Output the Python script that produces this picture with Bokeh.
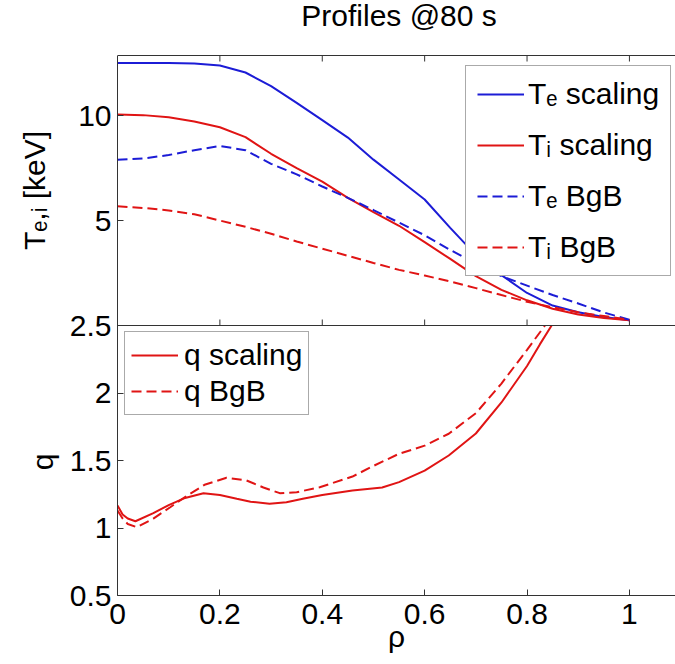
import numpy as np
from bokeh.plotting import figure
from bokeh.layouts import row
from bokeh.models import (Range1d, FixedTicker, Legend, LegendItem, Label, Span)
from bokeh.embed import file_html
from bokeh.resources import INLINE

# ---------------- data ----------------
rho_T = [0.00, 0.05, 0.10, 0.15, 0.20, 0.25, 0.30, 0.35, 0.40, 0.45, 0.50,
         0.55, 0.60, 0.65, 0.70, 0.75, 0.80, 0.85, 0.90, 0.95, 1.00]
te_scaling = [12.50, 12.50, 12.50, 12.48, 12.38, 12.05, 11.40, 10.60, 9.78, 8.95, 7.90,
              6.95, 6.00, 4.65, 3.35, 2.40, 1.55, 0.95, 0.63, 0.40, 0.25]
ti_scaling = [10.05, 10.02, 9.92, 9.72, 9.44, 8.97, 8.18, 7.50, 6.85, 6.08, 5.40,
              4.75, 3.97, 3.17, 2.35, 1.70, 1.20, 0.80, 0.52, 0.36, 0.25]
te_bgb = [7.89, 7.95, 8.12, 8.35, 8.55, 8.35, 7.70, 7.20, 6.62, 6.08, 5.50,
          4.90, 4.30, 3.60, 2.95, 2.35, 1.90, 1.45, 1.05, 0.62, 0.27]
ti_bgb = [5.68, 5.60, 5.48, 5.30, 5.00, 4.70, 4.37, 4.00, 3.66, 3.32, 2.98,
          2.65, 2.38, 2.10, 1.78, 1.45, 1.13, 0.87, 0.63, 0.45, 0.27]

rho_q_scaling = [0.00, 0.01, 0.02, 0.035, 0.07, 0.10, 0.13, 0.168, 0.20, 0.233, 0.26,
                 0.297, 0.33, 0.362, 0.40, 0.459, 0.517, 0.55, 0.60, 0.647, 0.70,
                 0.75, 0.80, 0.825, 0.848]
q_scaling = [1.167, 1.10, 1.07, 1.05, 1.11, 1.17, 1.22, 1.258, 1.245, 1.216, 1.195,
             1.179, 1.19, 1.216, 1.245, 1.278, 1.30, 1.34, 1.425, 1.537, 1.70,
             1.93, 2.20, 2.36, 2.50]
rho_q_bgb = [0.00, 0.01, 0.02, 0.038, 0.07, 0.103, 0.136, 0.17, 0.213, 0.252, 0.285,
             0.317, 0.35, 0.395, 0.459, 0.50, 0.55, 0.60, 0.647, 0.70, 0.75, 0.80,
             0.835]
q_bgb = [1.13, 1.07, 1.03, 1.006, 1.07, 1.154, 1.24, 1.32, 1.372, 1.352, 1.30,
         1.258, 1.265, 1.302, 1.381, 1.46, 1.55, 1.61, 1.698, 1.85, 2.07, 2.32,
         2.50]

x_ticks = [0.0, 0.2, 0.4, 0.6, 0.8, 1.0]
x_tick_labels = ["0", "0.2", "0.4", "0.6", "0.8", "1"]
q_ticks = [0.5, 1.0, 1.5, 2.0, 2.5]
q_tick_labels = ["0.5", "1", "1.5", "2", "2.5"]
T_ticks = [5.0, 10.0]
T_tick_labels = ["5", "10"]

title_text = "Profiles @80 s"
T_label = "T\u2091,\u1d62 [keV]"
q_label = "q"
x_label = "\u03c1"
legend_top = ["T\u2091 scaling", "T\u1d62 scaling", "T\u2091 BgB", "T\u1d62 BgB"]
legend_bot = ["q scaling", "q BgB"]

# ---------------- styling / geometry ----------------
FONT = "Liberation Sans"
FS = "30px"
BLUE = "#1c1cd6"
RED = "#e01414"
AX = "#333333"
DASH = "10 5"
W, H = 675, 664
LEFT_W = 66          # strip that holds the two rotated y-axis titles
BOTTOM = 69          # space below the frame for tick labels and x title

Q_MIN, Q_SPLIT, Q_BOX = 0.5, 2.5, 4.5      # q axis: lower panel 0.5..2.5
T_BOX = 12.86                               # T axis: upper panel 0..12.86
PX_PER_Q = (H - BOTTOM - 55) / (Q_BOX - Q_MIN)   # box top 55 px below canvas top
Q_TOP = Q_MIN + (H - BOTTOM) / PX_PER_Q          # frame reaches the canvas top (room for title)
T_PER_Q = T_BOX / (Q_BOX - Q_SPLIT)


def t_to_q(t):
    return Q_SPLIT + t / T_PER_Q


# ---------------- main plot (both panels share the x axis) ----------------
p = figure(width=W - LEFT_W, height=H, output_backend="svg", toolbar_location=None,
           x_range=Range1d(0, 1.09), y_range=Range1d(Q_MIN, Q_TOP),
           min_border_left=114 - LEFT_W, min_border_right=0, min_border_top=0,
           min_border_bottom=BOTTOM)
p.extra_y_ranges = {"T": Range1d((Q_MIN - Q_SPLIT) * T_PER_Q, (Q_TOP - Q_SPLIT) * T_PER_Q)}
p.outline_line_color = None
p.grid.visible = False
p.background_fill_color = "white"
p.border_fill_color = "white"

# title (drawn inside the frame area above the box)
p.add_layout(Label(x=0.55, y=Q_SPLIT + (325 - 15) / PX_PER_Q, text=title_text,
                   text_align="center", text_baseline="alphabetic",
                   text_font=FONT, text_font_size=FS, text_color="black"))

# ---------------- strip with the y-axis titles (frame aligned with main plot) ----------------
pl = figure(width=LEFT_W, height=H, output_backend="svg", toolbar_location=None,
            x_range=Range1d(0, LEFT_W), y_range=p.y_range,
            x_axis_location=None, y_axis_location=None,
            min_border=0, min_border_left=0, min_border_right=0,
            min_border_top=0, min_border_bottom=0)
pl.outline_line_color = None
pl.grid.visible = False
pl.add_layout(Label(x=34, y=t_to_q(6.43), text=T_label, angle=np.pi / 2,
                    text_align="center", text_baseline="alphabetic",
                    text_font=FONT, text_font_size=FS, text_color="black"))
pl.add_layout(Label(x=42, y=1.49, text=q_label, angle=np.pi / 2,
                    text_align="center", text_baseline="alphabetic",
                    text_font=FONT, text_font_size=FS, text_color="black"))

xa = p.xaxis[0]
xa.ticker = FixedTicker(ticks=x_ticks)
xa.major_label_overrides = {t: l for t, l in zip(x_ticks, x_tick_labels)}
xa.axis_label = x_label
xa.axis_label_text_font = FONT
xa.axis_label_text_font_size = FS
xa.axis_label_text_font_style = "normal"
xa.axis_label_text_color = "black"
xa.axis_label_standoff = -7

ya = p.yaxis[0]
ya_ticks = q_ticks + [t_to_q(t) for t in T_ticks]
ya.ticker = FixedTicker(ticks=ya_ticks)
ya.major_label_overrides = {t: l for t, l in zip(ya_ticks, q_tick_labels + T_tick_labels)}
ya.bounds = (Q_MIN, Q_BOX)

for ax in (xa, ya):
    ax.axis_line_color = AX
    ax.major_tick_line_color = AX
    ax.major_tick_in = 6
    ax.major_tick_out = 0
    ax.minor_tick_line_color = None
    ax.major_label_text_font = FONT
    ax.major_label_text_font_size = FS
    ax.major_label_text_color = "black"
xa.major_label_standoff = 8
ya.major_label_standoff = 6

# box top line and the separator between the panels, with inward ticks
p.add_layout(Span(location=Q_BOX, dimension="width", line_color=AX, line_width=1))
p.add_layout(Span(location=Q_SPLIT, dimension="width", line_color=AX, line_width=1))
tick_len = 6 / PX_PER_Q
n_t = len(x_ticks) - 1
p.segment(x0=x_ticks[1:], y0=[Q_SPLIT] * n_t, x1=x_ticks[1:], y1=[Q_SPLIT + tick_len] * n_t,
          line_color=AX, line_width=1)
p.segment(x0=x_ticks[1:], y0=[Q_BOX] * n_t, x1=x_ticks[1:], y1=[Q_BOX - tick_len] * n_t,
          line_color=AX, line_width=1)

# temperature profiles (upper panel)
r_te = p.line(rho_T, te_scaling, y_range_name="T", line_color=BLUE, line_width=2)
r_ti = p.line(rho_T, ti_scaling, y_range_name="T", line_color=RED, line_width=2)
r_teb = p.line(rho_T, te_bgb, y_range_name="T", line_color=BLUE, line_width=2, line_dash=DASH)
r_tib = p.line(rho_T, ti_bgb, y_range_name="T", line_color=RED, line_width=2, line_dash=DASH)

# q profiles (lower panel)
r_q = p.line(rho_q_scaling, q_scaling, line_color=RED, line_width=2)
r_qb = p.line(rho_q_bgb, q_bgb, line_color=RED, line_width=2, line_dash=DASH)

leg1 = Legend(items=[LegendItem(label=legend_top[0], renderers=[r_te]),
                     LegendItem(label=legend_top[1], renderers=[r_ti]),
                     LegendItem(label=legend_top[2], renderers=[r_teb]),
                     LegendItem(label=legend_top[3], renderers=[r_tib])],
              location=(348, 319), padding=11, spacing=17, glyph_width=47,
              label_standoff=4, label_height=34, glyph_height=34)
leg2 = Legend(items=[LegendItem(label=legend_bot[0], renderers=[r_q]),
                     LegendItem(label=legend_bot[1], renderers=[r_qb])],
              location=(7, 180), padding=6, spacing=2, glyph_width=47,
              label_standoff=6, label_height=34, glyph_height=34)
for lg in (leg1, leg2):
    lg.label_text_font = FONT
    lg.label_text_font_size = FS
    lg.label_text_color = "black"
    lg.border_line_color = "#555555"
    lg.border_line_width = 1
    lg.background_fill_color = "white"
    lg.background_fill_alpha = 1.0
    lg.margin = 0
    p.add_layout(lg)

layout = row(pl, p, spacing=0)
open("out.html", "w").write(file_html(layout, INLINE))
